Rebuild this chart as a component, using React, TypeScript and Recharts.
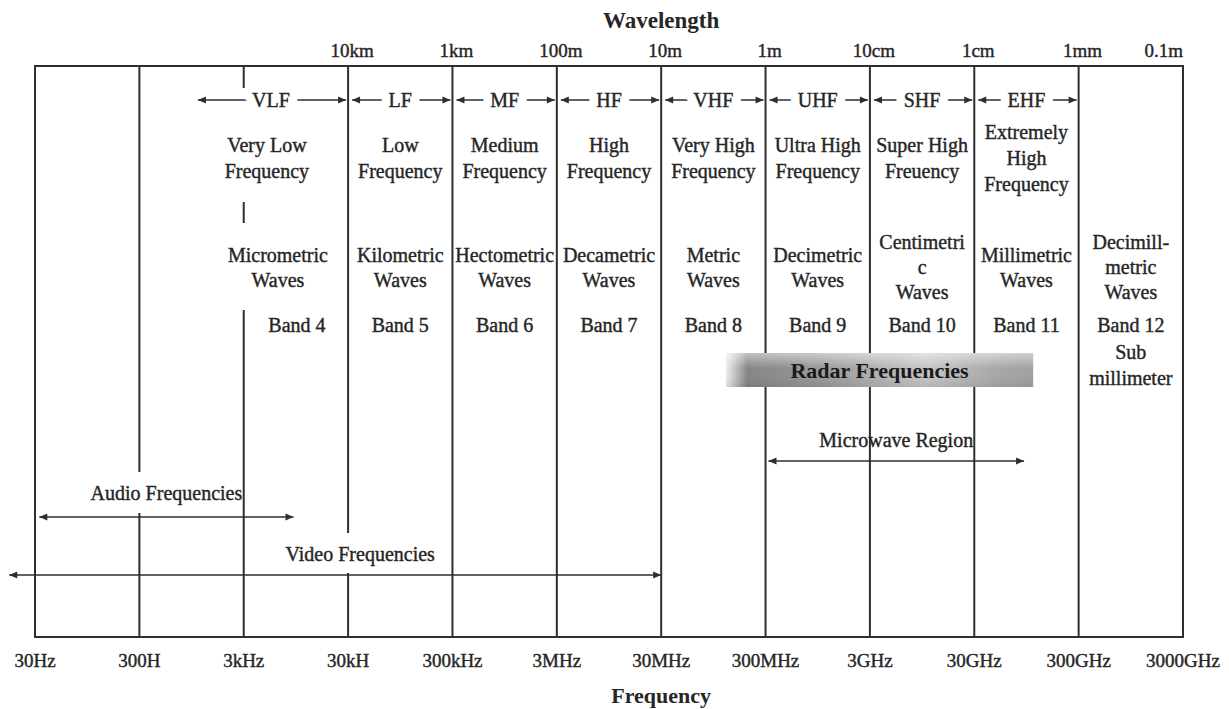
import React from 'react';
import {
  ComposedChart,
  XAxis,
  YAxis,
  ReferenceLine,
  ReferenceArea,
  ReferenceDot,
} from 'recharts';

const FONT = '"Liberation Serif", "Times New Roman", serif';
const INK = '#262626';
const LINE = '#2e2e2e';

// frequency axis (Hz), one division per decade
const boundaries = [30, 300, 3e3, 3e4, 3e5, 3e6, 3e7, 3e8, 3e9, 3e10, 3e11, 3e12];
const freqLabels = ['30Hz', '300H', '3kHz', '30kH', '300kHz', '3MHz', '30MHz', '300MHz', '3GHz', '30GHz', '300GHz', '3000GHz'];

// wavelength axis along the top
const waveTicks = [3e4, 3e5, 3e6, 3e7, 3e8, 3e9, 3e10, 3e11, 3e12];
const waveLabels = ['10km', '1km', '100m', '10m', '1m', '10cm', '1cm', '1mm', '0.1m'];

// ITU bands
const bandCodes = ['VLF', 'LF', 'MF', 'HF', 'VHF', 'UHF', 'SHF', 'EHF'];
const bandFrom = [1e3, 3e4, 3e5, 3e6, 3e7, 3e8, 3e9, 3e10];
const bandTo = [3e4, 3e5, 3e6, 3e7, 3e8, 3e9, 3e10, 3e11];
const bandNames = [
  ['Very Low', 'Frequency'],
  ['Low', 'Frequency'],
  ['Medium', 'Frequency'],
  ['High', 'Frequency'],
  ['Very High', 'Frequency'],
  ['Ultra High', 'Frequency'],
  ['Super High', 'Freuency'],
  ['Extremely', 'High', 'Frequency'],
];
const columnFrom = [3e3, 3e4, 3e5, 3e6, 3e7, 3e8, 3e9, 3e10, 3e11];
const columnTo = [3e4, 3e5, 3e6, 3e7, 3e8, 3e9, 3e10, 3e11, 3e12];
const waveNames = [
  ['Micrometric', 'Waves'],
  ['Kilometric', 'Waves'],
  ['Hectometric', 'Waves'],
  ['Decametric', 'Waves'],
  ['Metric', 'Waves'],
  ['Decimetric', 'Waves'],
  ['Centimetri', 'c', 'Waves'],
  ['Millimetric', 'Waves'],
  ['Decimill-', 'metric', 'Waves'],
];
const bandNumbers = ['Band 4', 'Band 5', 'Band 6', 'Band 7', 'Band 8', 'Band 9', 'Band 10', 'Band 11', 'Band 12'];
const band12Extra = ['Sub', 'millimeter'];

// spans drawn as arrows
const rangeNames = ['Audio Frequencies', 'Video Frequencies', 'Microwave Region'];
const rangeFrom = [33, 17, 3.2e8];
const rangeTo = [9e3, 3e7, 9e10];

const radarName = 'Radar Frequencies';
const radarFrom = 1.25e8;
const radarTo = 1.1e11;

// layout: y is px down from the top edge of the frame
const H = 571;
const ROW = { code: 34, name: 92, wave: 201, band: 259, sub: 299, radarTop: 287, radarBottom: 321 };
const rangeArrowY = [451, 509, 395];
const rangeLabelY = [427, 488, 374];
const rangeLabelDx = [0, 25, 0];
const vlfDx = { name: -29, wave: -18, band: 1 };
const lineGaps: Record<number, [number, number][]> = {
  300: [[0, 406], [447, H]],
  3e3: [[0, 22], [136, 157], [244, H]],
  3e4: [[0, 467], [507, H]],
  3e8: [[0, ROW.radarTop], [ROW.radarBottom, H]],
  3e9: [[0, ROW.radarTop], [ROW.radarBottom, H]],
  3e10: [[0, ROW.radarTop], [ROW.radarBottom, H]],
};

const gm = (a: number, b: number) => Math.sqrt(a * b);

type TextOpts = { size?: number; weight?: string | number; lh?: number; dx?: number; halo?: boolean };

const textShape = (lines: string[], o: TextOpts = {}) => (p: any) => {
  const lh = o.lh ?? 26;
  const x = p.cx + (o.dx ?? 0);
  const top = p.cy - ((lines.length - 1) * lh) / 2;
  const bold = o.weight === 'bold';
  const spans = lines.map((l, i) => (
    <tspan key={i} x={x} y={top + i * lh} dy="0.35em">
      {l}
    </tspan>
  ));
  const common = {
    textAnchor: 'middle' as const,
    fontFamily: FONT,
    fontSize: o.size ?? 20,
    fontWeight: o.weight ?? 'normal',
  };
  return (
    <g>
      {o.halo && (
        <text {...common} fill="#fff" stroke="#fff" strokeWidth={18} strokeLinejoin="round">
          {spans}
        </text>
      )}
      <text {...common} fill={INK} stroke={INK} strokeWidth={bold ? 0 : 0.4}>
        {spans}
      </text>
    </g>
  );
};

const head = (tipX: number, y: number, dir: number) => {
  const len = 8;
  const hw = 3.5;
  return `${tipX},${y} ${tipX - dir * len},${y - hw} ${tipX - dir * len},${y + hw}`;
};

const arrowShape = (insetL: number, insetR: number) => (p: any) => {
  const { x1, y1, x2 } = p;
  const a = Math.min(x1, x2) + insetL;
  const b = Math.max(x1, x2) - insetR;
  return (
    <g>
      <line x1={a} y1={y1} x2={b} y2={y1} stroke={LINE} strokeWidth={1.5} />
      <polygon points={head(a, y1, -1)} fill={LINE} />
      <polygon points={head(b, y1, 1)} fill={LINE} />
    </g>
  );
};

const FreqTick = (p: any) => {
  const i = boundaries.indexOf(p.payload.value);
  return (
    <text
      x={p.x}
      y={p.y}
      dy={23}
      dominantBaseline="central"
      textAnchor="middle"
      fontFamily={FONT}
      fontSize={19}
      fill={INK}
      stroke={INK}
      strokeWidth={0.4}
    >
      {freqLabels[i]}
    </text>
  );
};

const WaveTick = (p: any) => {
  const i = waveTicks.indexOf(p.payload.value);
  const last = i === waveTicks.length - 1;
  return (
    <text
      x={p.x + (last ? 0 : 4)}
      y={p.y}
      dy={-16}
      dominantBaseline="central"
      textAnchor={last ? 'end' : 'middle'}
      fontFamily={FONT}
      fontSize={19}
      fill={INK}
      stroke={INK}
      strokeWidth={0.4}
    >
      {waveLabels[i]}
    </text>
  );
};

export default function App() {
  return (
    <div style={{ position: 'absolute', left: 0, top: 0, background: '#fff' }}>
      <ComposedChart width={1229} height={709} data={[]} margin={{ top: 26, right: 46, bottom: 32, left: 35 }}>
        <defs>
          <linearGradient id="radarFill" x1="0" y1="0" x2="1" y2="0">
            <stop offset="0" stopColor="#f0f0f0" />
            <stop offset="0.07" stopColor="#858585" />
            <stop offset="0.3" stopColor="#989898" />
            <stop offset="0.65" stopColor="#c6c6c6" />
            <stop offset="0.88" stopColor="#a8a8a8" />
            <stop offset="1" stopColor="#a0a0a0" />
          </linearGradient>
          <linearGradient id="radarShine" x1="0" y1="0" x2="0" y2="1">
            <stop offset="0" stopColor="#fff" stopOpacity={0.5} />
            <stop offset="0.45" stopColor="#fff" stopOpacity={0} />
            <stop offset="1" stopColor="#000" stopOpacity={0.08} />
          </linearGradient>
        </defs>
        <XAxis
          type="number"
          scale="log"
          dataKey="f"
          domain={[boundaries[0], boundaries[boundaries.length - 1]]}
          allowDataOverflow
          ticks={boundaries}
          interval={0}
          tick={<FreqTick />}
          tickLine={false}
          axisLine={false}
          tickSize={0}
          tickMargin={0}
          height={40}
        />
        <XAxis
          xAxisId="top"
          orientation="top"
          type="number"
          scale="log"
          dataKey="f"
          domain={[boundaries[0], boundaries[boundaries.length - 1]]}
          allowDataOverflow
          ticks={waveTicks}
          interval={0}
          tick={<WaveTick />}
          tickLine={false}
          axisLine={false}
          tickSize={0}
          tickMargin={0}
          height={40}
        />
        <YAxis type="number" domain={[0, H]} reversed hide allowDataOverflow />

        {/* frame */}
        <ReferenceArea
          x1={boundaries[0]}
          x2={boundaries[boundaries.length - 1]}
          y1={0}
          y2={H}
          fill="none"
          fillOpacity={0}
          stroke={LINE}
          strokeWidth={2}
          ifOverflow="visible"
        />

        {/* decade dividers */}
        {boundaries.slice(1, -1).flatMap((f) =>
          (lineGaps[f] ?? [[0, H]]).map(([a, b], j) => (
            <ReferenceLine
              key={`div-${f}-${j}`}
              segment={[
                { x: f, y: a },
                { x: f, y: b },
              ]}
              stroke={LINE}
              strokeWidth={2}
              ifOverflow="visible"
            />
          ))
        )}

        {/* band arrows */}
        {bandCodes.map((c, i) => (
          <ReferenceLine
            key={`arr-${c}`}
            segment={[
              { x: bandFrom[i], y: ROW.code },
              { x: bandTo[i], y: ROW.code },
            ]}
            shape={arrowShape(4, 2)}
            ifOverflow="visible"
          />
        ))}
        {bandCodes.map((c, i) => (
          <ReferenceDot
            key={`code-${c}`}
            x={gm(bandFrom[i], bandTo[i])}
            y={ROW.code}
            r={0}
            shape={textShape([c], { halo: true })}
            ifOverflow="visible"
          />
        ))}

        {/* band names */}
        {bandNames.map((lines, i) => (
          <ReferenceDot
            key={`name-${i}`}
            x={gm(columnFrom[i], columnTo[i])}
            y={ROW.name}
            r={0}
            shape={textShape(lines, { lh: 26, dx: i === 0 ? vlfDx.name : 0 })}
            ifOverflow="visible"
          />
        ))}
        {waveNames.map((lines, i) => (
          <ReferenceDot
            key={`wave-${i}`}
            x={gm(columnFrom[i], columnTo[i])}
            y={ROW.wave}
            r={0}
            shape={textShape(lines, { lh: 25, dx: i === 0 ? vlfDx.wave : 0 })}
            ifOverflow="visible"
          />
        ))}
        {bandNumbers.map((b, i) => (
          <ReferenceDot
            key={`band-${i}`}
            x={gm(columnFrom[i], columnTo[i])}
            y={ROW.band}
            r={0}
            shape={textShape([b], { dx: i === 0 ? vlfDx.band : 0 })}
            ifOverflow="visible"
          />
        ))}
        <ReferenceDot
          x={gm(columnFrom[8], columnTo[8])}
          y={ROW.sub}
          r={0}
          shape={textShape(band12Extra, { lh: 26 })}
          ifOverflow="visible"
        />

        {/* radar block */}
        <ReferenceArea x1={radarFrom} x2={radarTo} y1={ROW.radarTop} y2={ROW.radarBottom} fill="url(#radarFill)" fillOpacity={1} stroke="none" />
        <ReferenceArea
          x1={radarFrom}
          x2={radarTo}
          y1={ROW.radarTop}
          y2={ROW.radarBottom}
          fill="url(#radarShine)"
          fillOpacity={1}
          stroke="none"
          label={{ value: radarName, position: 'center', fontFamily: FONT, fontSize: 22, fontWeight: 'bold', fill: '#1a1a1a' }}
        />

        {/* range arrows */}
        {rangeNames.map((n, i) => (
          <ReferenceLine
            key={`rng-${i}`}
            segment={[
              { x: rangeFrom[i], y: rangeArrowY[i] },
              { x: rangeTo[i], y: rangeArrowY[i] },
            ]}
            shape={arrowShape(0, 0)}
            ifOverflow="visible"
          />
        ))}
        {rangeNames.map((n, i) => (
          <ReferenceDot
            key={`rngl-${i}`}
            x={gm(rangeFrom[i], rangeTo[i])}
            y={rangeLabelY[i]}
            r={0}
            shape={textShape([n], { dx: rangeLabelDx[i] })}
            ifOverflow="visible"
          />
        ))}

        {/* axis titles */}
        <ReferenceDot x={3e7} y={-46} r={0} shape={textShape(['Wavelength'], { size: 23, weight: 'bold' })} ifOverflow="visible" />
        <ReferenceDot x={3e7} y={629} r={0} shape={textShape(['Frequency'], { size: 22, weight: 'bold' })} ifOverflow="visible" />
      </ComposedChart>
    </div>
  );
}
